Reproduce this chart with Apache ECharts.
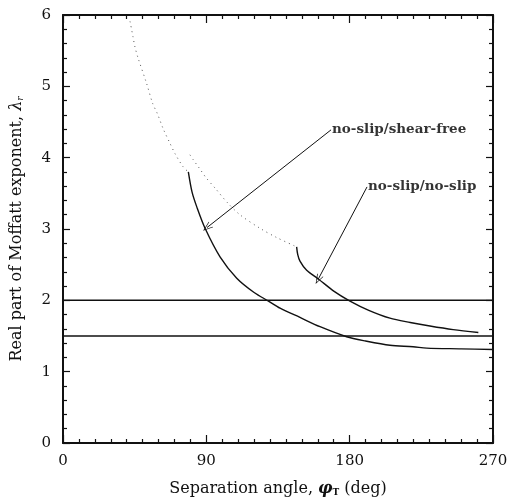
<!DOCTYPE html>
<html>
<head>
<meta charset="utf-8">
<script src="https://cdn.jsdelivr.net/npm/echarts@6/dist/echarts.min.js"></script>
<style>
  html, body { margin: 0; padding: 0; background: #fff; }
  #chart { width: 509px; height: 499px; }
</style>
</head>
<body>
<div id="chart"></div>
<script>
// 刻度
var xTicks = [0, 90, 180, 270];
var yTicks = [0, 1, 2, 3, 4, 5, 6];

// 曲线数据 [角度, λr]
var shearFreeSolid = [
  [78.7, 3.80], [81.0, 3.52], [84.0, 3.31], [89.2, 3.01], [98.6, 2.61],
  [109.1, 2.31], [120.0, 2.11], [129.0, 1.99], [136.3, 1.89], [148.8, 1.76],
  [161.4, 1.63], [178.1, 1.49], [190.0, 1.43], [205.3, 1.37], [219.8, 1.35],
  [228.4, 1.33], [250.0, 1.32], [270.0, 1.31]
];
var shearFreeDotted = [
  [42.1, 5.91], [44.0, 5.69], [45.2, 5.55], [47.1, 5.40], [52.5, 5.04],
  [56.3, 4.76], [59.2, 4.62], [63.0, 4.40], [67.2, 4.20], [70.5, 4.05],
  [75.5, 3.87], [78.7, 3.80]
];
var noSlipSolid = [
  [146.7, 2.75], [147.4, 2.64], [148.8, 2.55], [153.0, 2.42], [160.3, 2.30],
  [170.0, 2.13], [180.2, 1.99], [192.0, 1.86], [205.3, 1.75], [218.0, 1.69],
  [230.4, 1.64], [245.0, 1.59], [260.8, 1.55]
];
var noSlipDotted = [
  [79.7, 4.04], [81.8, 3.97], [86.0, 3.84], [89.8, 3.72], [96.0, 3.56],
  [102.8, 3.38], [111.1, 3.20], [123.7, 3.01], [134.2, 2.88], [146.7, 2.75]
];
var levelLines = [2.0, 1.5];

// 标注 [文字位置, 箭头终点]
var labelNames = ['no-slip/shear-free', 'no-slip/no-slip'];
var labelStarts = [[168.3, 4.39], [190.9, 3.59]];
var labelTips = [[90.4, 3.02], [160.1, 2.29]];

var serif = 'DejaVu Serif';
var ink = '#111';

var chart = echarts.init(document.getElementById('chart'));

function curve(data, dotted) {
  return {
    type: 'line',
    data: data,
    smooth: 0.3,
    showSymbol: false,
    silent: true,
    lineStyle: dotted
      ? { color: '#555', width: 1, type: [1, 4] }
      : { color: ink, width: 1.4 }
  };
}

var series = [
  curve(shearFreeSolid, false),
  curve(shearFreeDotted, true),
  curve(noSlipSolid, false),
  curve(noSlipDotted, true)
];

levelLines.forEach(function (v) {
  series.push({
    type: 'line',
    data: [[0, v], [270, v]],
    showSymbol: false,
    silent: true,
    lineStyle: { color: ink, width: 1.5 }
  });
});

// 箭头
var vArrow = 'path://M5,0 L10,10 L9,10 L5,2 L1,10 L0,10 Z';
series.push({
  type: 'line',
  data: [],
  silent: true,
  markLine: {
    silent: true,
    animation: false,
    symbol: ['none', vArrow],
    symbolSize: [7, 10],
    lineStyle: { color: ink, width: 1, type: 'solid' },
    label: { show: false },
    data: labelStarts.map(function (s, i) {
      return [{ coord: s }, { coord: labelTips[i] }];
    })
  }
});

// 文字
series.push({
  type: 'scatter',
  symbolSize: 0,
  silent: true,
  data: labelStarts.map(function (s, i) {
    return { value: s, name: labelNames[i] };
  }),
  label: {
    show: true,
    position: 'right',
    distance: 1,
    formatter: '{b}',
    fontFamily: serif,
    fontSize: 13.5,
    fontWeight: 'bold',
    color: '#000'
  }
});

function xAxisBase(pos, labels) {
  return {
    type: 'value',
    position: pos,
    min: 0,
    max: 270,
    interval: 90,
    axisLine: { show: true, onZero: false, lineStyle: { color: ink, width: 2 } },
    axisTick: { show: true, inside: true, length: 8, lineStyle: { color: ink, width: 1.2 } },
    minorTick: { show: true, splitNumber: 9, length: 4, lineStyle: { color: ink, width: 1.2 } },
    splitLine: { show: false },
    axisLabel: labels ? {
      show: true, margin: 11, fontFamily: serif, fontSize: 15, color: ink,
      formatter: function (v) { return xTicks.indexOf(v) >= 0 ? String(v) : ''; }
    } : { show: false }
  };
}

function yAxisBase(pos, labels) {
  return {
    type: 'value',
    position: pos,
    min: 0,
    max: 6,
    interval: 1,
    axisLine: { show: true, onZero: false, lineStyle: { color: ink, width: 2 } },
    axisTick: { show: true, inside: true, length: 7, lineStyle: { color: ink, width: 1.2 } },
    minorTick: { show: true, splitNumber: 5, length: 4, lineStyle: { color: ink, width: 1.2 } },
    splitLine: { show: false },
    axisLabel: labels ? {
      show: true, margin: 12, fontFamily: serif, fontSize: 15, color: ink,
      formatter: function (v) { return yTicks.indexOf(v) >= 0 ? String(v) : ''; }
    } : { show: false }
  };
}

var xMain = xAxisBase('bottom', true);
xMain.name = 'Separation angle, {g|φ}{sub|T} (deg)';
xMain.nameLocation = 'middle';
xMain.nameGap = 38;
xMain.nameTextStyle = {
  fontFamily: serif, fontSize: 16, color: ink,
  rich: {
    g: { fontFamily: serif, fontSize: 16, fontStyle: 'italic', fontWeight: 'bold', color: ink },
    sub: { fontFamily: serif, fontSize: 9, fontWeight: 'bold', color: ink, verticalAlign: 'bottom', padding: [7, 0, 0, 0] }
  }
};

var yMain = yAxisBase('left', true);
yMain.name = 'Real part of Moffatt exponent, {g|λ}{sub|r}';
yMain.nameLocation = 'middle';
yMain.nameRotate = 90;
yMain.nameGap = 38;
yMain.nameTextStyle = {
  fontFamily: serif, fontSize: 16, color: ink,
  rich: {
    g: { fontFamily: serif, fontSize: 16, fontStyle: 'italic', color: ink },
    sub: { fontFamily: serif, fontSize: 9, fontStyle: 'italic', color: ink, verticalAlign: 'bottom', padding: [7, 0, 0, 0] }
  }
};

var option = {
  animation: false,
  backgroundColor: '#fff',
  grid: { left: 63, right: 16, top: 15, bottom: 56, outerBoundsMode: 'none', containLabel: false },
  xAxis: [xMain, xAxisBase('top', false)],
  yAxis: [yMain, yAxisBase('right', false)],
  series: series
};

chart.setOption(option);
</script>
</body>
</html>
